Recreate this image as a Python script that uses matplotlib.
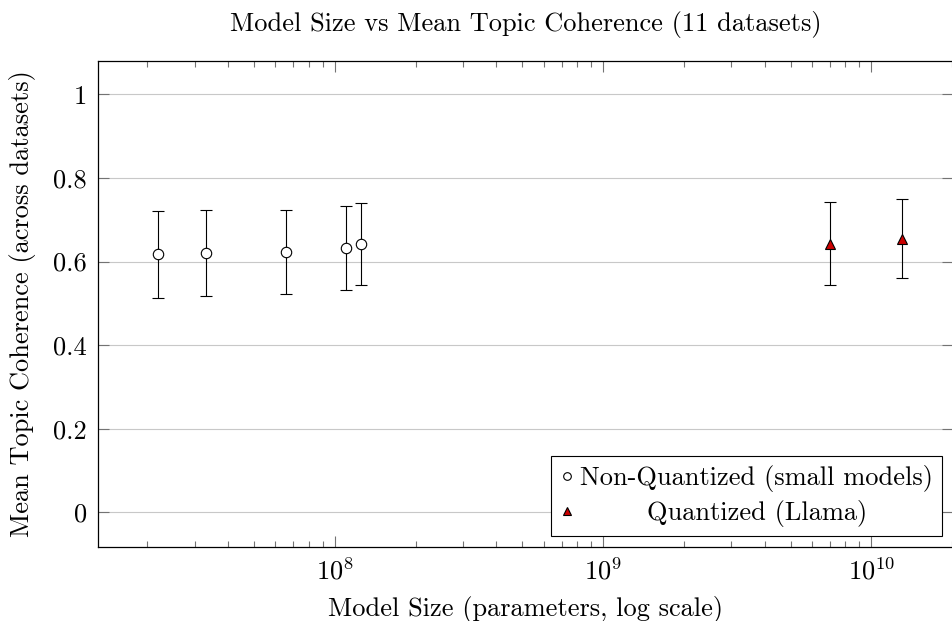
# -*- coding: utf-8 -*-
# Model size vs mean topic coherence, log x axis with error bars
import numpy as np
import matplotlib
matplotlib.use("Agg")
import matplotlib.pyplot as plt
from matplotlib.ticker import FixedLocator, LogLocator, NullFormatter, FormatStrFormatter

plt.rcParams['font.family'] = ['cmr10', 'DejaVu Serif']
plt.rcParams['mathtext.fontset'] = 'cm'
plt.rcParams['axes.formatter.use_mathtext'] = True

# data
small_size = [2.2e7, 3.3e7, 6.6e7, 1.1e8, 1.25e8]
small_mean = [0.617, 0.620, 0.623, 0.632, 0.642]
small_err = [0.104, 0.103, 0.100, 0.100, 0.097]

llama_size = [7e9, 1.3e10]
llama_mean = [0.643, 0.655]
llama_err = [0.099, 0.095]

yticks = [0, 0.2, 0.4, 0.6, 0.8, 1]

fs = 19

fig = plt.figure(figsize=(9.52, 6.21), dpi=100)
ax = fig.add_axes([98/952, 74.3/621, 855/952, 485.4/621])

# error bars
ax.errorbar(small_size, small_mean, yerr=small_err, fmt='none',
            ecolor='black', elinewidth=0.8, capsize=4.5, capthick=0.8, zorder=2)
ax.errorbar(llama_size, llama_mean, yerr=llama_err, fmt='none',
            ecolor='black', elinewidth=0.8, capsize=4.5, capthick=0.8, zorder=2)
# markers
ax.plot(small_size, small_mean, 'o', markersize=7.5, markerfacecolor='white',
        markeredgecolor='black', markeredgewidth=0.8,
        label='Non-Quantized (small models)', zorder=3)
ax.plot(llama_size, llama_mean, '^', markersize=7.5, markerfacecolor='#cc0000',
        markeredgecolor='black', markeredgewidth=0.8,
        label='Quantized (Llama)', zorder=3)

ax.set_xscale('log')
ax.set_xlim(1.31e7, 2.015e10)
ax.set_ylim(-0.082, 1.079)

ax.xaxis.set_major_locator(LogLocator(base=10))
ax.xaxis.set_minor_locator(LogLocator(base=10, subs=np.arange(2, 10)))
ax.xaxis.set_minor_formatter(NullFormatter())
ax.yaxis.set_major_locator(FixedLocator(yticks))
ax.yaxis.set_major_formatter(FormatStrFormatter('%g'))

ax.grid(True, axis='y', color='#c8c8c8', linewidth=0.8, zorder=0)
ax.set_axisbelow(True)
ax.tick_params(which='both', direction='in', top=True, right=True,
               color='0.45', width=0.8, labelsize=fs, pad=8)
ax.tick_params(which='major', length=8)
ax.tick_params(which='minor', length=4.5)
for s in ax.spines.values():
    s.set_linewidth(0.9)

ax.set_title('Model Size vs Mean Topic Coherence (11 datasets)', fontsize=fs, pad=22)
ax.set_xlabel('Model Size (parameters, log scale)', fontsize=fs, labelpad=8)
ax.set_ylabel('Mean Topic Coherence (across datasets)', fontsize=fs, labelpad=12)

leg = ax.legend(loc='lower right', fontsize=fs, frameon=True, fancybox=False,
                edgecolor='black', framealpha=1, handlelength=0.5,
                handletextpad=0.25, borderpad=0.35, labelspacing=0.3,
                borderaxespad=0.4)
leg.get_frame().set_linewidth(0.8)
for h in leg.legend_handles:
    h.set_markersize(5.5)

# centre the shorter legend label like the pgfplots legend
fig.canvas.draw()
texts = leg.get_texts()
w = [t.get_window_extent().width for t in texts]
wmax = max(w)
for t, wi in zip(texts, w):
    t.set_x((wmax - wi) / 2)

fig.savefig('out.png', dpi=100)
